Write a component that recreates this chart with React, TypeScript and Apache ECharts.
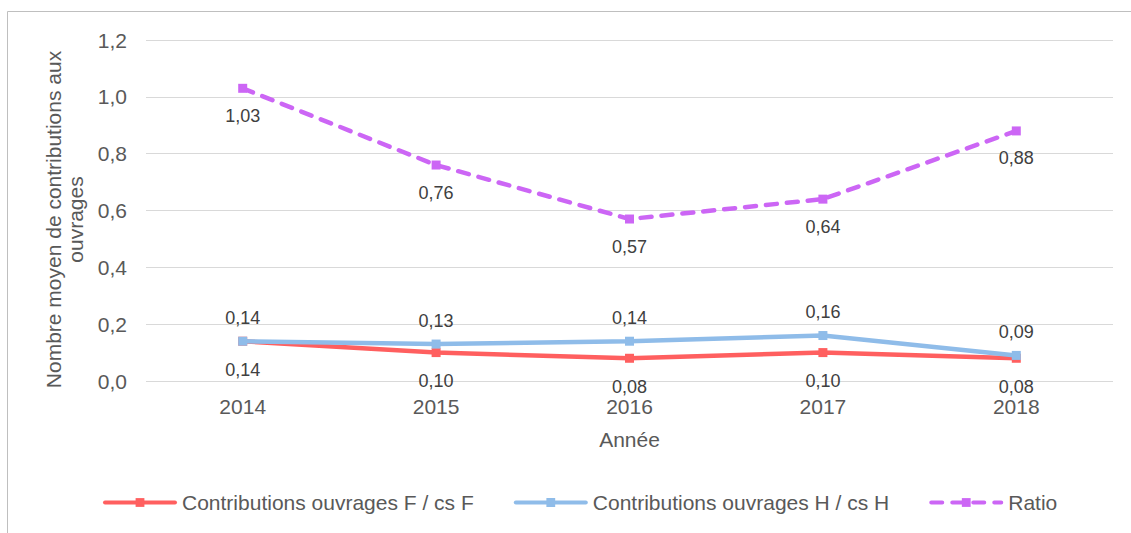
import React, { useEffect, useRef } from "react";
import * as echarts from "echarts";

const years = ["2014", "2015", "2016", "2017", "2018"];
const seriesF = [0.14, 0.10, 0.08, 0.10, 0.08];
const seriesH = [0.14, 0.13, 0.14, 0.16, 0.09];
const ratio = [1.03, 0.76, 0.57, 0.64, 0.88];
const names = ["Contributions ouvrages F / cs F", "Contributions ouvrages H / cs H", "Ratio"];

const fmt2 = (v: number) => v.toFixed(2).replace(".", ",");
const FONT = "Liberation Sans, Arial, sans-serif";

export default function App() {
  const ref = useRef<HTMLDivElement>(null);
  useEffect(() => {
    const chart = echarts.init(ref.current!, null, { renderer: "svg" });
    const label = (pos: string, dist: number) => ({
      show: true,
      position: pos,
      distance: dist,
      color: "#404040",
      fontSize: 18,
      fontFamily: FONT,
      formatter: (p: any) => fmt2(p.value),
    });
    chart.setOption({
      animation: false,
      textStyle: { fontFamily: FONT },
      graphic: [
        {
          type: "rect",
          shape: { x: 7.5, y: 11.5, width: 1140, height: 540 },
          style: { fill: "none", stroke: "#BFBFBF", lineWidth: 1 },
          silent: true,
        },
      ],
      grid: { left: 146, right: 18, top: 40, bottom: 152, containLabel: false },
      legend: {
        bottom: 15,
        left: 98,
        itemWidth: 70,
        itemHeight: 11,
        itemGap: 40,
        lineStyle: { width: 4, cap: "round" },
        textStyle: { color: "#595959", fontSize: 21, fontFamily: FONT, padding: [0, 0, 0, 2] },
        data: names,
      },
      xAxis: {
        type: "category",
        data: years,
        boundaryGap: true,
        axisLine: { show: false },
        axisTick: { show: false },
        axisLabel: { color: "#595959", fontSize: 21, margin: 15, fontFamily: FONT },
        name: "Année",
        nameLocation: "middle",
        nameGap: 48,
        nameTextStyle: { color: "#595959", fontSize: 21, fontFamily: FONT },
      },
      yAxis: {
        type: "value",
        min: 0,
        max: 1.2,
        interval: 0.2,
        axisLine: { show: false },
        axisTick: { show: false },
        splitLine: { lineStyle: { color: "#D9D9D9", width: 1 } },
        axisLabel: {
          color: "#595959",
          fontSize: 21,
          margin: 19,
          fontFamily: FONT,
          formatter: (v: number) => v.toFixed(1).replace(".", ","),
        },
        name: "Nombre moyen de contributions aux\nouvrages",
        nameLocation: "middle",
        nameGap: 55,
        nameRotate: 90,
        nameTextStyle: { color: "#595959", fontSize: 21, lineHeight: 22, fontFamily: FONT, padding: [0, 18, 0, 0] },
      },
      series: [
        {
          name: names[0],
          type: "line",
          data: seriesF,
          symbol: "rect",
          symbolSize: 9,
          lineStyle: { color: "#FF5F5F", width: 4.5 },
          itemStyle: { color: "#FF5F5F" },
          label: label("bottom", 15),
          z: 3,
        },
        {
          name: names[1],
          type: "line",
          data: seriesH,
          symbol: "rect",
          symbolSize: 9,
          lineStyle: { color: "#8FBCE9", width: 4.5 },
          itemStyle: { color: "#8FBCE9" },
          label: label("top", 10),
          z: 4,
        },
        {
          name: names[2],
          type: "line",
          data: ratio,
          symbol: "rect",
          symbolSize: 9,
          lineStyle: { color: "#CC66F5", width: 4.5, type: [11, 10], cap: "round" },
          itemStyle: { color: "#CC66F5" },
          label: label("bottom", 14),
          z: 5,
        },
      ],
    });
    return () => chart.dispose();
  }, []);
  return (
    <div
      ref={ref}
      style={{ position: "absolute", left: 0, top: 0, width: 1131, height: 533 }}
    />
  );
}
